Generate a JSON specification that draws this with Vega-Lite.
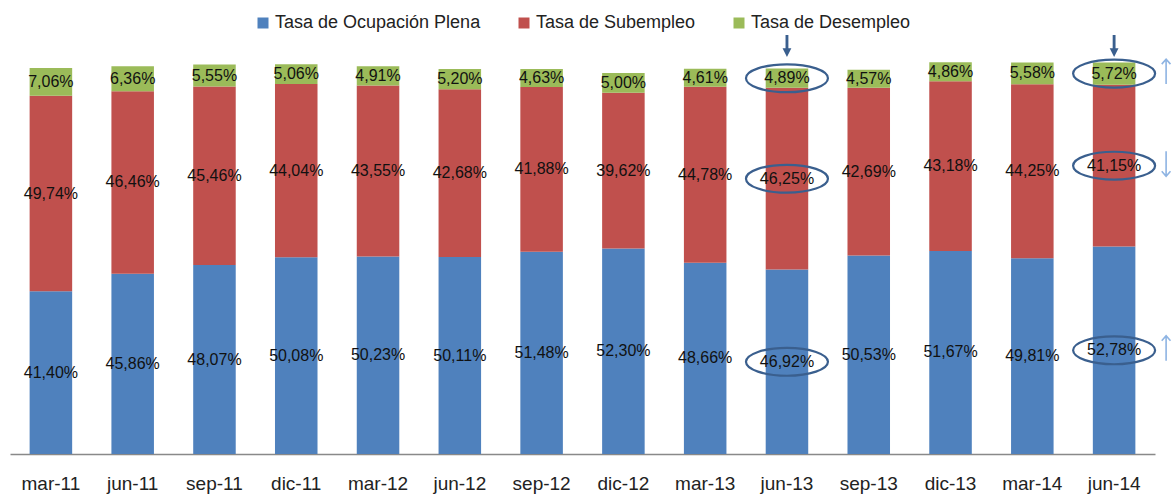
{
  "$schema": "https://vega.github.io/schema/vega-lite/v6.json",
  "width": 1145,
  "height": 393,
  "autosize": {"type": "none"},
  "padding": {"left": 10, "top": 61, "right": 19, "bottom": 41},
  "background": "white",
  "config": {
    "view": {"stroke": null},
    "font": "Liberation Sans",
    "locale": {"number": {"decimal": ",", "thousands": ".", "grouping": [3], "currency": ["", " €"]}}
  },
  "data": {
    "values": [
      {"fecha": "mar-11", "serie": "Tasa de Ocupación Plena", "k": 1, "valor": 0.4140},
      {"fecha": "mar-11", "serie": "Tasa de Subempleo", "k": 2, "valor": 0.4974},
      {"fecha": "mar-11", "serie": "Tasa de Desempleo", "k": 3, "valor": 0.0706},
      {"fecha": "jun-11", "serie": "Tasa de Ocupación Plena", "k": 1, "valor": 0.4586},
      {"fecha": "jun-11", "serie": "Tasa de Subempleo", "k": 2, "valor": 0.4646},
      {"fecha": "jun-11", "serie": "Tasa de Desempleo", "k": 3, "valor": 0.0636},
      {"fecha": "sep-11", "serie": "Tasa de Ocupación Plena", "k": 1, "valor": 0.4807},
      {"fecha": "sep-11", "serie": "Tasa de Subempleo", "k": 2, "valor": 0.4546},
      {"fecha": "sep-11", "serie": "Tasa de Desempleo", "k": 3, "valor": 0.0555},
      {"fecha": "dic-11", "serie": "Tasa de Ocupación Plena", "k": 1, "valor": 0.5008},
      {"fecha": "dic-11", "serie": "Tasa de Subempleo", "k": 2, "valor": 0.4404},
      {"fecha": "dic-11", "serie": "Tasa de Desempleo", "k": 3, "valor": 0.0506},
      {"fecha": "mar-12", "serie": "Tasa de Ocupación Plena", "k": 1, "valor": 0.5023},
      {"fecha": "mar-12", "serie": "Tasa de Subempleo", "k": 2, "valor": 0.4355},
      {"fecha": "mar-12", "serie": "Tasa de Desempleo", "k": 3, "valor": 0.0491},
      {"fecha": "jun-12", "serie": "Tasa de Ocupación Plena", "k": 1, "valor": 0.5011},
      {"fecha": "jun-12", "serie": "Tasa de Subempleo", "k": 2, "valor": 0.4268},
      {"fecha": "jun-12", "serie": "Tasa de Desempleo", "k": 3, "valor": 0.0520},
      {"fecha": "sep-12", "serie": "Tasa de Ocupación Plena", "k": 1, "valor": 0.5148},
      {"fecha": "sep-12", "serie": "Tasa de Subempleo", "k": 2, "valor": 0.4188},
      {"fecha": "sep-12", "serie": "Tasa de Desempleo", "k": 3, "valor": 0.0463},
      {"fecha": "dic-12", "serie": "Tasa de Ocupación Plena", "k": 1, "valor": 0.5230},
      {"fecha": "dic-12", "serie": "Tasa de Subempleo", "k": 2, "valor": 0.3962},
      {"fecha": "dic-12", "serie": "Tasa de Desempleo", "k": 3, "valor": 0.0500},
      {"fecha": "mar-13", "serie": "Tasa de Ocupación Plena", "k": 1, "valor": 0.4866},
      {"fecha": "mar-13", "serie": "Tasa de Subempleo", "k": 2, "valor": 0.4478},
      {"fecha": "mar-13", "serie": "Tasa de Desempleo", "k": 3, "valor": 0.0461},
      {"fecha": "jun-13", "serie": "Tasa de Ocupación Plena", "k": 1, "valor": 0.4692},
      {"fecha": "jun-13", "serie": "Tasa de Subempleo", "k": 2, "valor": 0.4625},
      {"fecha": "jun-13", "serie": "Tasa de Desempleo", "k": 3, "valor": 0.0489},
      {"fecha": "sep-13", "serie": "Tasa de Ocupación Plena", "k": 1, "valor": 0.5053},
      {"fecha": "sep-13", "serie": "Tasa de Subempleo", "k": 2, "valor": 0.4269},
      {"fecha": "sep-13", "serie": "Tasa de Desempleo", "k": 3, "valor": 0.0457},
      {"fecha": "dic-13", "serie": "Tasa de Ocupación Plena", "k": 1, "valor": 0.5167},
      {"fecha": "dic-13", "serie": "Tasa de Subempleo", "k": 2, "valor": 0.4318},
      {"fecha": "dic-13", "serie": "Tasa de Desempleo", "k": 3, "valor": 0.0486},
      {"fecha": "mar-14", "serie": "Tasa de Ocupación Plena", "k": 1, "valor": 0.4981},
      {"fecha": "mar-14", "serie": "Tasa de Subempleo", "k": 2, "valor": 0.4425},
      {"fecha": "mar-14", "serie": "Tasa de Desempleo", "k": 3, "valor": 0.0558},
      {"fecha": "jun-14", "serie": "Tasa de Ocupación Plena", "k": 1, "valor": 0.5278},
      {"fecha": "jun-14", "serie": "Tasa de Subempleo", "k": 2, "valor": 0.4115},
      {"fecha": "jun-14", "serie": "Tasa de Desempleo", "k": 3, "valor": 0.0572}
    ]
  },
  "transform": [
    {"stack": "valor", "groupby": ["fecha"], "sort": [{"field": "k", "order": "ascending"}], "as": ["y0", "y1"]}
  ],
  "encoding": {
    "x": {
      "field": "fecha",
      "type": "nominal",
      "scale": {
        "domain": ["mar-11", "jun-11", "sep-11", "dic-11", "mar-12", "jun-12", "sep-12", "dic-12", "mar-13", "jun-13", "sep-13", "dic-13", "mar-14", "jun-14"],
        "paddingInner": 0.48,
        "paddingOuter": 0.24
      },
      "axis": {
        "title": null,
        "grid": false,
        "ticks": false,
        "tickSize": 0,
        "domainColor": "#898989",
        "domainWidth": 1.5,
        "labelAngle": 0,
        "labelFont": "Liberation Sans",
        "labelFontSize": 19,
        "labelColor": "#222222",
        "labelBaseline": "alphabetic",
        "labelPadding": 35
      }
    }
  },
  "layer": [
    {
      "mark": {"type": "bar"},
      "encoding": {
        "y": {"field": "y0", "type": "quantitative", "scale": {"domain": [0, 1]}, "axis": null},
        "y2": {"field": "y1"},
        "color": {
          "field": "serie",
          "type": "nominal",
          "scale": {
            "domain": ["Tasa de Ocupación Plena", "Tasa de Subempleo", "Tasa de Desempleo"],
            "range": ["#4F81BD", "#C0504D", "#9BBB59"]
          },
          "legend": {
            "orient": "none",
            "legendX": 244,
            "legendY": -47,
            "direction": "horizontal",
            "title": null,
            "symbolType": "square",
            "symbolSize": 121,
            "symbolStrokeWidth": 0,
            "labelFont": "Liberation Sans",
            "labelFontSize": 18,
            "labelColor": "#222222",
            "labelLimit": 400,
            "labelOffset": 3,
            "columnPadding": 34,
            "padding": 0
          }
        }
      }
    },
    {
      "transform": [
        {"fold": ["y0", "y1"], "as": ["extremo", "pos"]},
        {"aggregate": [{"op": "mean", "field": "pos", "as": "mid"}], "groupby": ["fecha", "serie", "valor"]}
      ],
      "mark": {"type": "text", "fontSize": 16, "font": "Liberation Sans", "color": "#111111", "baseline": "middle", "align": "center"},
      "encoding": {
        "y": {"field": "mid", "type": "quantitative"},
        "text": {"field": "valor", "type": "quantitative", "format": ".2%"}
      }
    },
    {
      "transform": [
        {"filter": {"field": "fecha", "oneOf": ["jun-13", "jun-14"]}},
        {"fold": ["y0", "y1"], "as": ["extremo", "pos"]},
        {"aggregate": [{"op": "mean", "field": "pos", "as": "mid"}], "groupby": ["fecha", "serie"]}
      ],
      "mark": {
        "type": "point",
        "shape": "M-1,0C-1,-0.1878,-0.5523,-0.34,0,-0.34C0.5523,-0.34,1,-0.1878,1,0C1,0.1878,0.5523,0.34,0,0.34C-0.5523,0.34,-1,0.1878,-1,0Z",
        "size": 6724,
        "filled": false,
        "stroke": "#3A5F8E",
        "strokeWidth": 2.2,
        "opacity": 1
      },
      "encoding": {
        "y": {"field": "mid", "type": "quantitative"}
      }
    },
    {
      "transform": [
        {"filter": {"field": "fecha", "oneOf": ["jun-13", "jun-14"]}},
        {"filter": {"field": "k", "equal": 3}}
      ],
      "mark": {
        "type": "point",
        "shape": "M-0.13,-1L0.13,-1L0.13,0.2L0.4,0.2L0,1L-0.4,0.2L-0.13,0.2Z",
        "size": 484,
        "filled": true,
        "color": "#3A5F8E",
        "opacity": 1
      },
      "encoding": {
        "y": {"datum": 1.038, "type": "quantitative"}
      }
    },
    {
      "transform": [
        {"filter": {"field": "fecha", "equal": "jun-14"}},
        {"fold": ["y0", "y1"], "as": ["extremo", "pos"]},
        {"aggregate": [{"op": "mean", "field": "pos", "as": "mid"}], "groupby": ["fecha", "k"]}
      ],
      "mark": {
        "type": "point",
        "size": 625,
        "filled": false,
        "stroke": "#8EB4E3",
        "strokeWidth": 1.6,
        "opacity": 1,
        "xOffset": 52,
        "yOffset": -2
      },
      "encoding": {
        "y": {"field": "mid", "type": "quantitative"},
        "shape": {
          "field": "k",
          "type": "nominal",
          "scale": {
            "domain": [1, 2, 3],
            "range": ["M0,1L0,-1M-0.35,-0.6L0,-1L0.35,-0.6", "M0,-1L0,1M-0.35,0.6L0,1L0.35,0.6", "M0,1L0,-1M-0.35,-0.6L0,-1L0.35,-0.6"]
          },
          "legend": null
        }
      }
    }
  ]
}
